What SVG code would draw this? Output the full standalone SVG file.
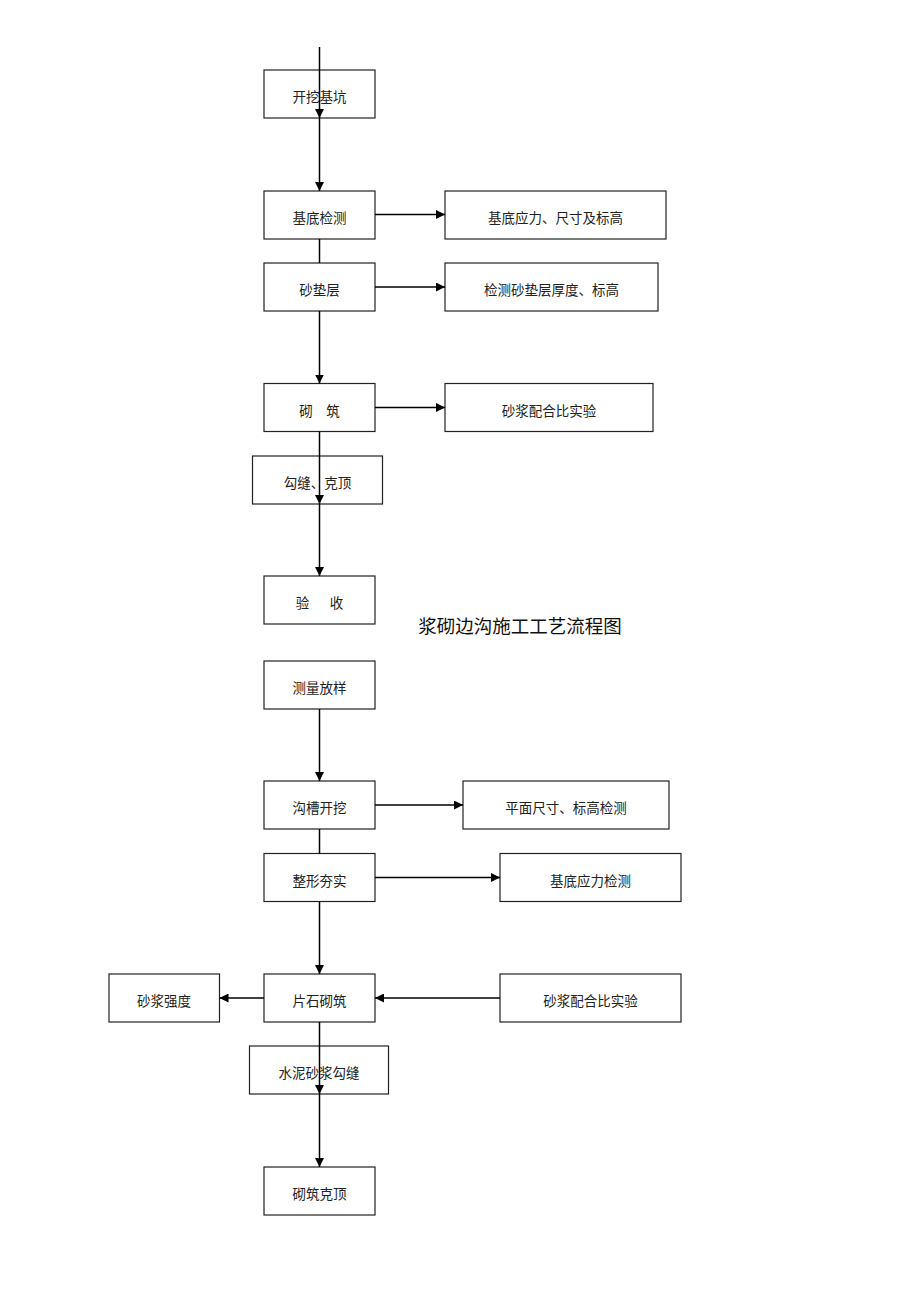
<svg xmlns="http://www.w3.org/2000/svg" width="920" height="1302" viewBox="0 0 920 1302">
<style>
.box{fill:#fff;stroke:#222;stroke-width:1.2}
.t{font-family:"Noto Sans CJK SC","Noto Sans CJK JP",sans-serif;font-size:13.5px;fill:#222;text-anchor:middle}
.title{font-family:"Noto Sans CJK SC",sans-serif;font-size:18.5px;fill:#111;text-anchor:middle}
.c{stroke:#000;stroke-width:1.5;fill:none}
.a{marker-end:url(#ah)}
</style>
<defs>
<marker id="ah" markerUnits="userSpaceOnUse" markerWidth="9" markerHeight="9" refX="9" refY="4.5" orient="auto">
<path d="M0,0 L9,4.5 L0,9 z" fill="#000"/>
</marker>
</defs>
<rect width="920" height="1302" fill="#fff"/>
<g id="n1"><rect class="box" x="264" y="70" width="111" height="48"/><text class="t" x="319.5" y="102">开挖基坑</text></g>
<g id="n2"><rect class="box" x="264" y="191" width="111" height="48"/><text class="t" x="319.5" y="223">基底检测</text></g>
<g id="n2r"><rect class="box" x="445" y="191" width="221" height="48"/><text class="t" x="555.5" y="223">基底应力、尺寸及标高</text></g>
<g id="n3"><rect class="box" x="264" y="263" width="111" height="48"/><text class="t" x="319.5" y="295">砂垫层</text></g>
<g id="n3r"><rect class="box" x="445" y="263" width="213" height="48"/><text class="t" x="551.5" y="295">检测砂垫层厚度、标高</text></g>
<g id="n4"><rect class="box" x="264" y="383.5" width="111" height="48"/><text class="t" x="319.5" y="415.5">砌　筑</text></g>
<g id="n4r"><rect class="box" x="445" y="383.5" width="208" height="48"/><text class="t" x="549" y="415.5">砂浆配合比实验</text></g>
<g id="n5"><rect class="box" x="252.5" y="456" width="130" height="48"/><text class="t" x="317.5" y="488">勾缝、克顶</text></g>
<g id="n6"><rect class="box" x="264" y="576" width="111" height="48"/><text class="t" y="608"><tspan x="302.5">验</tspan><tspan x="336.5">收</tspan></text></g>
<g id="title"><text class="title" x="520" y="633">浆砌边沟施工工艺流程图</text></g>
<g id="m1"><rect class="box" x="264" y="661" width="111" height="48"/><text class="t" x="319.5" y="693">测量放样</text></g>
<g id="m2"><rect class="box" x="264" y="781" width="111" height="48"/><text class="t" x="319.5" y="813">沟槽开挖</text></g>
<g id="m2r"><rect class="box" x="463" y="781" width="206" height="48"/><text class="t" x="566" y="813">平面尺寸、标高检测</text></g>
<g id="m3"><rect class="box" x="264" y="853.5" width="111" height="48"/><text class="t" x="319.5" y="885.5">整形夯实</text></g>
<g id="m3r"><rect class="box" x="500" y="853.5" width="181" height="48"/><text class="t" x="590.5" y="885.5">基底应力检测</text></g>
<g id="m4"><rect class="box" x="264" y="974" width="111" height="48"/><text class="t" x="319.5" y="1006">片石砌筑</text></g>
<g id="m4l"><rect class="box" x="109" y="974" width="110.5" height="48"/><text class="t" x="164" y="1006">砂浆强度</text></g>
<g id="m4r"><rect class="box" x="500" y="974" width="181" height="48"/><text class="t" x="590.5" y="1006">砂浆配合比实验</text></g>
<g id="m5"><rect class="box" x="249.5" y="1046" width="139" height="48"/><text class="t" x="319" y="1078">水泥砂浆勾缝</text></g>
<g id="m6"><rect class="box" x="264" y="1167" width="111" height="48"/><text class="t" x="319.5" y="1199">砌筑克顶</text></g>
<g id="connectors">
<line class="c a" x1="319.5" y1="47" x2="319.5" y2="118"/>
<line class="c a" x1="319.5" y1="118" x2="319.5" y2="191"/>
<line class="c a" x1="375" y1="214.5" x2="445" y2="214.5"/>
<line class="c" x1="319.5" y1="239" x2="319.5" y2="263"/>
<line class="c a" x1="375" y1="287" x2="445" y2="287"/>
<line class="c a" x1="319.5" y1="311" x2="319.5" y2="383.5"/>
<line class="c a" x1="375" y1="407.5" x2="445" y2="407.5"/>
<line class="c a" x1="319.5" y1="431.5" x2="319.5" y2="504"/>
<line class="c a" x1="319.5" y1="504" x2="319.5" y2="576"/>
<line class="c a" x1="319.5" y1="709" x2="319.5" y2="781"/>
<line class="c a" x1="375" y1="805" x2="463" y2="805"/>
<line class="c" x1="319.5" y1="829" x2="319.5" y2="853.5"/>
<line class="c a" x1="375" y1="877.5" x2="500" y2="877.5"/>
<line class="c a" x1="319.5" y1="901.5" x2="319.5" y2="974"/>
<line class="c a" x1="264" y1="998" x2="219.5" y2="998"/>
<line class="c a" x1="500" y1="998" x2="375" y2="998"/>
<line class="c a" x1="319.5" y1="1022" x2="319.5" y2="1094"/>
<line class="c a" x1="319.5" y1="1094" x2="319.5" y2="1167"/>
</g>
</svg>
